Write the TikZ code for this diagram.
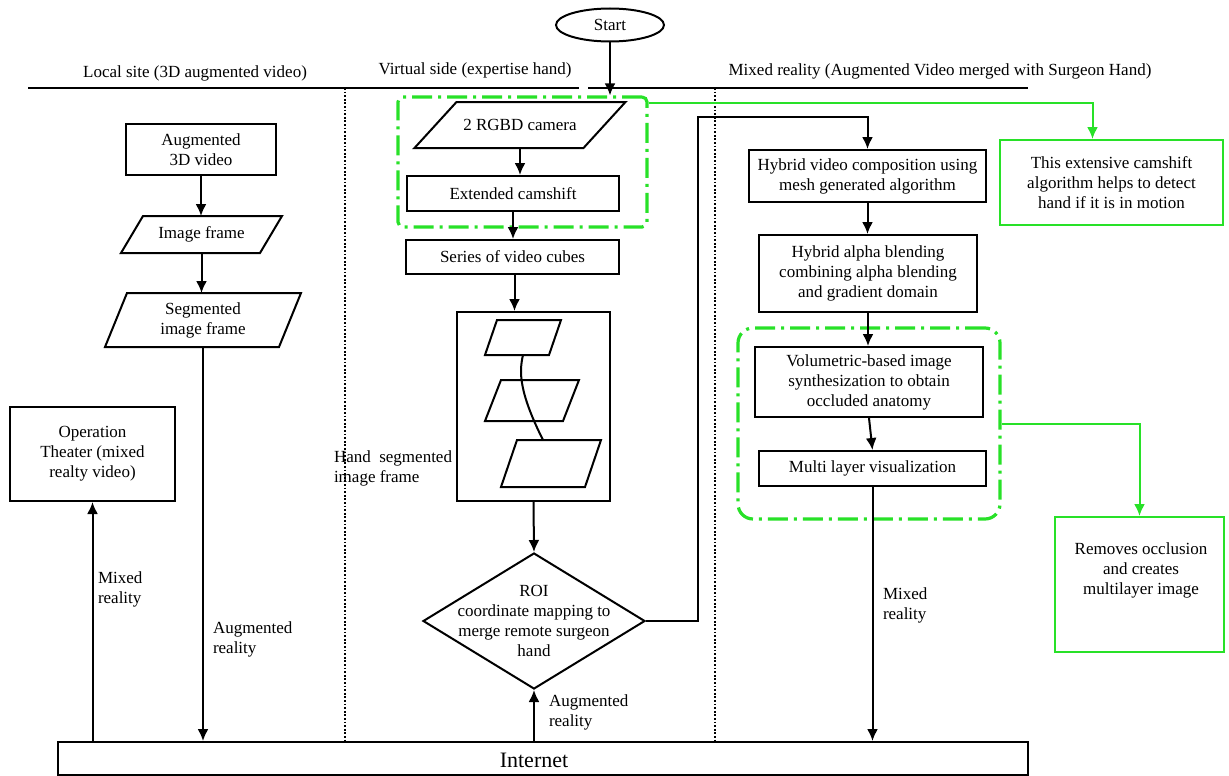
\documentclass[tikz,border=0pt]{standalone}
\usepackage{fontspec}
\setmainfont{Liberation Serif}
\usetikzlibrary{arrows.meta,shapes.geometric}
\definecolor{lime}{RGB}{40,225,40}
\newcommand{\plgram}[2]{\draw ([xshift=#2]#1.north west) -- ([xshift=#2]#1.north east) -- ([xshift=-#2]#1.south east) -- ([xshift=-#2]#1.south west) -- cycle;}
\begin{document}
\begin{tikzpicture}[x=1pt,y=-1pt,
  font=\fontsize{17}{20}\selectfont,
  line width=2pt,
  box/.style={draw, rectangle, inner sep=0pt, align=center},
  plg/.style={rectangle, inner sep=0pt, align=center},
  gnote/.style={draw=lime, line width=2pt, rectangle, inner sep=0pt, align=center},
  gfence/.style={draw=lime, line width=3.2pt, dash pattern=on 20pt off 6pt on 3pt off 6pt},
  arr/.style={-{Latex[length=12pt,width=11pt]}},
  garr/.style={draw=lime, line width=2pt, -{Latex[length=12pt,width=11pt]}},
  lbl/.style={anchor=west, align=left, inner sep=0pt}]
\useasboundingbox (0,0) rectangle (1229,776);

% header
\node (hlocal) at (195,73) {Local site (3D augmented video)};
\node (hvirt) at (475,70) {Virtual side (expertise hand)};
\node (hmixed) at (940,71) {Mixed reality (Augmented Video merged with Surgeon Hand)};
\draw (28,88) -- (579,88);
\draw (588,88) -- (1028,88);
\draw[line width=1.5pt, dash pattern=on 1.8pt off 1.8pt] (345,88) -- (345,742);
\draw[line width=1.5pt, dash pattern=on 1.8pt off 1.8pt] (715,88) -- (715,742);

% start
\node[ellipse, draw, minimum width=108pt, minimum height=33pt, inner sep=0pt] (start) at (610,25) {Start};

% left column
\node[box, minimum width=150pt, minimum height=51pt] (aug) at (201,149.5) {Augmented\\3D video};
\node[plg, minimum width=137pt, minimum height=35pt] (imgf) at (201.5,234.5) {Image frame};
\plgram{imgf}{11pt}
\node[plg, minimum width=172pt, minimum height=52pt] (seg) at (203,320) {Segmented\\image frame};
\plgram{seg}{11pt}
\node[box, minimum width=165pt, minimum height=94pt] (oper) at (92.5,454) {Operation\\Theater (mixed\\realty video)};

% middle column
\node[gfence, rounded corners=5pt, minimum width=249pt, minimum height=130pt] (g1) at (522.5,162) {};
\node[plg, minimum width=167pt, minimum height=44pt] (rgbd) at (520,125) {2 RGBD camera};
\plgram{rgbd}{21pt}
\node[box, minimum width=212pt, minimum height=35pt] (ext) at (513,193.5) {Extended camshift};
\node[box, minimum width=213pt, minimum height=34pt] (series) at (512.5,257) {Series of video cubes};
\node[box, minimum width=153pt, minimum height=189pt] (big) at (533.5,406.5) {};
\node[plg, minimum width=62pt, minimum height=33pt] (p1) at (523,337.5) {};
\plgram{p1}{6pt}
\node[plg, minimum width=76pt, minimum height=39pt] (p2) at (532,400.5) {};
\plgram{p2}{8pt}
\node[plg, minimum width=82pt, minimum height=45pt] (p3) at (551,463.5) {};
\plgram{p3}{8pt}
\draw (p1.south) .. controls (519,372) and (519,392) .. ([xshift=-8pt]p3.north);
\node[lbl] (lhand) at (333,468) {Hand\ \ segmented\\image frame};
\node[diamond, draw, minimum width=222pt, minimum height=136pt, inner sep=0pt] (roid) at (534,621) {};
\node[align=center, inner sep=0pt] (roit) at (534,621) {ROI\\coordinate mapping to\\merge remote surgeon\\hand};

% right column
\node[box, minimum width=237pt, minimum height=52pt] (hvc) at (867.5,176) {Hybrid video composition using\\mesh generated algorithm};
\node[box, minimum width=218pt, minimum height=77pt] (hab) at (868,273.5) {Hybrid alpha blending\\combining alpha blending\\and gradient domain};
\node[gfence, rounded corners=15pt, minimum width=262pt, minimum height=191pt] (g2) at (869,423.5) {};
\node[box, minimum width=228pt, minimum height=70pt] (vol) at (869,382) {Volumetric-based image\\synthesization to obtain\\occluded anatomy};
\node[box, minimum width=227pt, minimum height=35pt] (mlv) at (872.5,468.5) {Multi layer visualization};

% notes
\node[gnote, minimum width=223pt, minimum height=85pt] (note1) at (1111.5,182.5) {This extensive camshift\\algorithm helps to detect\\hand if it is in motion};
\node[gnote, minimum width=169pt, minimum height=135pt] (note2) at (1139.5,584.5) {};
\node[align=center, inner sep=0pt] (note2t) at (1141,570) {Removes occlusion\\and creates\\multilayer image};

% internet
\node[box, minimum width=970pt, minimum height=33pt] (inet) at (543,758.5) {};
\node[inner sep=0pt, font=\fontsize{22}{26}\selectfont] (inett) at (534,760) {Internet};

% connectors
\coordinate (bend) at (698,117);
\draw[arr] (start.south) -- (start.south |- g1.north);
\draw[arr] (rgbd.south) -- (rgbd.south |- ext.north);
\draw[arr] (ext.south) -- (ext.south |- series.north);
\draw[arr] ([xshift=2pt]series.south) -- ([xshift=2pt]series.south |- big.north);
\draw[arr] (big.south) -- (roid.north);
\draw[arr] (roid.east) -| (bend) -| (hvc.north);
\draw[arr] (hvc.south) -- (hvc.south |- hab.north);
\draw[arr] (hab.south) -- (hab.south |- vol.north);
\draw[arr] (vol.south) -- (mlv.north);
\draw[arr] (mlv.south) -- (mlv.south |- inet.north);
\draw[arr] (aug.south) -- (aug.south |- imgf.north);
\draw[arr] (imgf.south) -- (imgf.south |- seg.north);
\draw[arr] (seg.south) -- (seg.south |- inet.north);
\draw[arr] (oper.south |- inet.north) -- (oper.south);
\draw[arr] (roid.south |- inet.north) -- (roid.south);
\draw[garr] ([yshift=-8pt]g1.north east) -| ([xshift=-19pt]note1.north);
\draw[garr] (g2.east) -| (note2.north);

% labels
\node[lbl] (lar1) at (212,639) {Augmented\\reality};
\node[lbl] (lmr1) at (97,589) {Mixed\\reality};
\node[lbl] (lar2) at (548,712) {Augmented\\reality};
\node[lbl] (lmr2) at (882,605) {Mixed\\reality};
\end{tikzpicture}
\end{document}
